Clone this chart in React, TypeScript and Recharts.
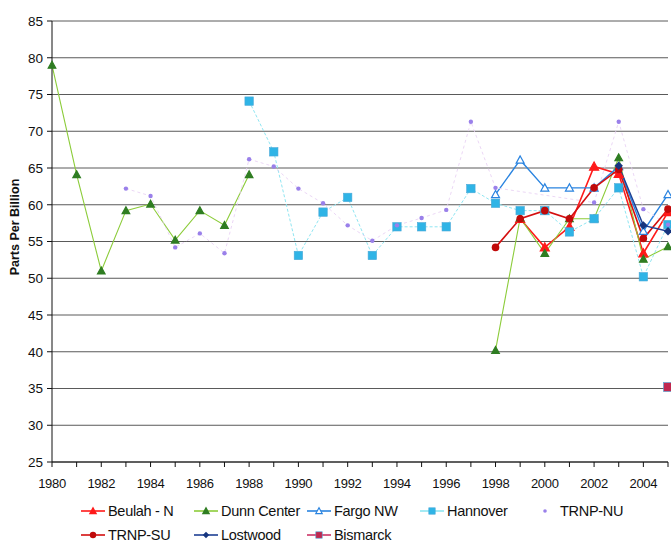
import { CartesianGrid, Line, LineChart, XAxis, YAxis } from "recharts";

const years = [
  1980, 1981, 1982, 1983, 1984, 1985, 1986, 1987, 1988, 1989, 1990, 1991, 1992,
  1993, 1994, 1995, 1996, 1997, 1998, 1999, 2000, 2001, 2002, 2003, 2004, 2005,
];

const _ = null;

// values in ppb, one slot per year above
const beulahN = [_, _, _, _, _, _, _, _, _, _, _, _, _, _, _, _, _, _, _, 58.1, 54.2, 57.0, 65.2, 64.2, 53.4, 59.0];
const dunnCenter = [79, 64.1, 51, 59.2, 60.1, 55.2, 59.2, 57.2, 64.1, _, _, _, _, _, _, _, _, _, 40.2, 58.2, 53.4, 58.1, 58.1, 66.4, 52.6, 54.3];
const fargoNW = [_, _, _, _, _, _, _, _, _, _, _, _, _, _, _, _, _, _, 61.4, 66.1, 62.3, 62.3, 62.3, 65.2, 56.4, 61.4];
const hannover = [_, _, _, _, _, _, _, _, 74.1, 67.2, 53.1, 59.0, 61.0, 53.1, 57.0, 57.0, 57.0, 62.2, 60.2, 59.2, 59.2, 56.3, 58.1, 62.3, 50.2, 57.3];
const trnpNU = [_, _, _, 62.2, 61.2, 54.2, 56.1, 53.4, 66.2, 65.2, 62.2, 60.2, 57.2, 55.1, 57.2, 58.2, 59.3, 71.3, 62.3, _, _, _, 60.3, 71.3, 59.4, 57.3];
const trnpSU = [_, _, _, _, _, _, _, _, _, _, _, _, _, _, _, _, _, _, 54.2, 58.1, 59.2, 58.1, 62.3, 64.8, 55.4, 59.4];
const lostwood = [_, _, _, _, _, _, _, _, _, _, _, _, _, _, _, _, _, _, _, _, _, _, _, 65.3, 57.2, 56.4];
const bismarck = [_, _, _, _, _, _, _, _, _, _, _, _, _, _, _, _, _, _, _, _, _, _, _, _, _, 35.2];

const yTicks = [25, 30, 35, 40, 45, 50, 55, 60, 65, 70, 75, 80, 85];

const rows = years.map((year, i) => ({
  year,
  beulahN: beulahN[i],
  dunnCenter: dunnCenter[i],
  fargoNW: fargoNW[i],
  hannover: hannover[i],
  trnpNU: trnpNU[i],
  trnpSU: trnpSU[i],
  lostwood: lostwood[i],
  bismarck: bismarck[i],
}));

type Shape = "triangle" | "openTriangle" | "square" | "dot" | "circle" | "diamond";

type SeriesDef = {
  key: string;
  name: string;
  line: string;
  marker: string;
  shape: Shape;
  width: number;
  dash?: string;
  size: number;
};

const series: SeriesDef[] = [
  { key: "beulahN", name: "Beulah - N", line: "#ff1a1a", marker: "#ff1a1a", shape: "triangle", width: 1.6, size: 4.5 },
  { key: "dunnCenter", name: "Dunn Center", line: "#8ccc3a", marker: "#2f7d22", shape: "triangle", width: 1.1, size: 3.8 },
  { key: "fargoNW", name: "Fargo NW", line: "#2a84e0", marker: "#2a84e0", shape: "openTriangle", width: 1.4, size: 4 },
  { key: "hannover", name: "Hannover", line: "#8fe6f2", marker: "#2fb4e6", shape: "square", width: 1, dash: "3 2", size: 4.2 },
  { key: "trnpNU", name: "TRNP-NU", line: "#e6cdf2", marker: "#9a80ea", shape: "dot", width: 0.8, dash: "3 3", size: 2.2 },
  { key: "trnpSU", name: "TRNP-SU", line: "#d40f0f", marker: "#c00a0a", shape: "circle", width: 1.6, size: 3.8 },
  { key: "lostwood", name: "Lostwood", line: "#1d3f94", marker: "#16357f", shape: "diamond", width: 1.4, size: 4.2 },
  { key: "bismarck", name: "Bismarck", line: "#cc3366", marker: "#c0284f", shape: "square", width: 1.4, size: 4.5 },
];

function Marker({ cx, cy, shape, color, size }: { cx: number; cy: number; shape: Shape; color: string; size: number }) {
  const s = size;
  if (shape === "triangle" || shape === "openTriangle") {
    const pts = `${cx},${cy - s} ${cx - s},${cy + s * 0.8} ${cx + s},${cy + s * 0.8}`;
    return <polygon points={pts} fill={shape === "openTriangle" ? "#fff" : color} stroke={color} strokeWidth={1.2} />;
  }
  if (shape === "square") {
    return <rect x={cx - s} y={cy - s} width={s * 2} height={s * 2} fill={color} stroke="#4aa8d8" strokeWidth={0.6} />;
  }
  if (shape === "diamond") {
    const pts = `${cx},${cy - s} ${cx + s},${cy} ${cx},${cy + s} ${cx - s},${cy}`;
    return <polygon points={pts} fill={color} />;
  }
  return <circle cx={cx} cy={cy} r={s} fill={color} />;
}

function makeDot(def: SeriesDef) {
  return (props: any) => {
    const { cx, cy, value, index } = props;
    if (value == null || cy == null || Number.isNaN(cy)) return <g key={`${def.key}-${index}`} />;
    return (
      <g key={`${def.key}-${index}`}>
        <Marker cx={cx} cy={cy} shape={def.shape} color={def.marker} size={def.size} />
      </g>
    );
  };
}

function YearTick(props: any) {
  const { x, y, payload } = props;
  if (payload.value % 2 !== 0) return <g />;
  return (
    <text x={x} y={y + 19} textAnchor="middle" fontSize={13} fill="#111" letterSpacing={-0.3}>
      {payload.value}
    </text>
  );
}

function AxisTitle() {
  return (
    <text
      x={19}
      y={227}
      transform="rotate(-90 19 227)"
      textAnchor="middle"
      fontSize={12.5}
      fontWeight="bold"
      fill="#111"
    >
      Parts Per Billion
    </text>
  );
}

function LegendIcon({ def }: { def: SeriesDef }) {
  const showLine = def.key !== "trnpNU";
  return (
    <svg width={24} height={12} style={{ display: "block" }}>
      {showLine && <line x1={0} y1={6} x2={24} y2={6} stroke={def.line} strokeWidth={1.6} />}
      <Marker cx={12} cy={6} shape={def.shape} color={def.marker} size={def.shape === "dot" ? 1.8 : 3.2} />
    </svg>
  );
}

const legendSpots: Record<string, [number, number]> = {
  beulahN: [81, 511],
  dunnCenter: [194, 511],
  fargoNW: [307, 511],
  hannover: [420, 511],
  trnpNU: [533, 511],
  trnpSU: [81, 535],
  lostwood: [194, 535],
  bismarck: [307, 535],
};

export default function App() {
  return (
    <div
      style={{
        position: "fixed",
        left: 0,
        top: 0,
        width: 671,
        height: 544,
        background: "#fff",
        fontFamily: "'Liberation Sans', Arial, sans-serif",
        overflow: "hidden",
      }}
    >
      <LineChart width={671} height={544} data={rows} margin={{ top: 21, right: 3, left: 0, bottom: 52 }}>
        <CartesianGrid horizontal vertical={false} stroke="#5a5a5a" strokeWidth={1} />
        <XAxis
          dataKey="year"
          type="number"
          domain={[1980, 2005]}
          ticks={years}
          interval={0}
          height={30}
          tickSize={5}
          tick={<YearTick />}
          axisLine={{ stroke: "#111" }}
          tickLine={{ stroke: "#111" }}
        />
        <YAxis
          domain={[25, 85]}
          ticks={yTicks}
          interval={0}
          width={52}
          tickSize={5}
          tickMargin={4}
          tick={{ fontSize: 13.5, fill: "#111" }}
          axisLine={{ stroke: "#111" }}
          tickLine={{ stroke: "#111" }}
          label={<AxisTitle />}
        />
        {series.map((def) => (
          <Line
            key={def.key}
            dataKey={def.key}
            name={def.name}
            type="linear"
            stroke={def.line}
            strokeWidth={def.width}
            strokeDasharray={def.dash}
            dot={makeDot(def)}
            activeDot={false}
            connectNulls={def.key === "trnpNU"}
            isAnimationActive={false}
          />
        ))}
      </LineChart>
      {series.map((def) => {
        const [lx, ly] = legendSpots[def.key];
        return (
          <div
            key={def.key}
            style={{
              position: "absolute",
              left: lx,
              top: ly - 9,
              height: 18,
              display: "flex",
              alignItems: "center",
              gap: 3,
              fontSize: 14.5,
              color: "#111",
              whiteSpace: "nowrap",
              letterSpacing: -0.3,
            }}
          >
            <LegendIcon def={def} />
            <span>{def.name}</span>
          </div>
        );
      })}
    </div>
  );
}
